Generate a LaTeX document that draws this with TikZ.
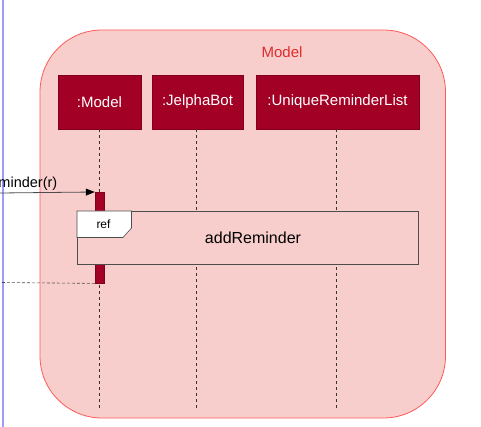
\documentclass[tikz,border=0pt]{standalone}
\usepackage{fontspec}
\setmainfont{Liberation Sans}
\usetikzlibrary{arrows.meta}

\definecolor{modelfill}{HTML}{F8CECC}
\definecolor{modelline}{HTML}{FF5959}
\definecolor{modeltext}{HTML}{DD2C2C}
\definecolor{crimson}{HTML}{A20025}
\definecolor{umlblue}{HTML}{9C9CFF}
\definecolor{msgline}{HTML}{4D4D4D}

\tikzset{
    lifehead/.style={fill=crimson, draw=crimson!80!black, text=white, minimum height=54pt, inner sep=0pt, font=\fontsize{15}{18}\selectfont},
    lifeline/.style={dash pattern=on 3pt off 3pt, black!80, line width=0.9pt},
    activation/.style={fill=crimson, draw=crimson!80!black, minimum width=9pt, inner sep=0pt},
    msg/.style={msgline, line width=0.8pt, -{Triangle[length=9pt,width=7pt,black]}},
    ret/.style={msgline, line width=0.6pt, dash pattern=on 3pt off 2pt},
}

\begin{document}
\begin{tikzpicture}[x=1pt,y=-1pt]
        \useasboundingbox (0,0) rectangle (481,427);

        % blue frame edge on the left
        \draw[umlblue, line width=2.2pt] (3,0) -- (3,427);

        % Model frame
        \draw[modelline, fill=modelfill, line width=0.8pt, rounded corners=62pt] (40,30) rectangle (445.5,418);
        \node[text=modeltext, font=\fontsize{15}{18}\selectfont] at (282,52) (frame) {Model};

        \node[lifehead, minimum width=83pt] at (99.5,102) (model) {:Model};
        \node[lifehead, minimum width=90.5pt] at (197.5,102) (jelpha) {:JelphaBot};
        \node[lifehead, minimum width=163pt] at (337.5,102) (urlist) {:UniqueReminderList};

        \coordinate (model-end) at (99,409);
        \coordinate (jelpha-end) at (196.7,409);
        \coordinate (urlist-end) at (336,409);

        \draw[lifeline] (model.south -| model-end) -- (model-end);
        \draw[lifeline] (jelpha.south -| jelpha-end) -- (jelpha-end);
        \draw[lifeline] (urlist.south -| urlist-end) -- (urlist-end);

        \node[activation, minimum height=91pt, anchor=north] at (99.5,192) (act) {};

        % call from outside and return
        \coordinate (caller) at (0,193);
        \coordinate (back) at (0,282.5);
        \draw[msg] (caller) -- (act.north west);
        \node[anchor=south east, inner sep=0pt, font=\fontsize{14.5}{17}\selectfont] at (57.5,191) (call) {minder(r)};
        \draw[ret] (act.south west) -- (back);

        % ref fragment
        \draw[msgline, fill=modelfill, line width=0.8pt] (77,211) rectangle (418.5,264);
        \coordinate (refbox) at (77,211);
        \draw[msgline, fill=white, line width=0.6pt] (refbox) -- (131.5,211) -- (131.5,228) -- (123,237.5) -- (77,237.5) -- cycle;
        \node[font=\fontsize{12}{14}\selectfont] at (103.5,224) (reftag) {ref};
        \node[font=\fontsize{16}{19}\selectfont] at (253,238) (refname) {addReminder};
    \end{tikzpicture}
\end{document}
